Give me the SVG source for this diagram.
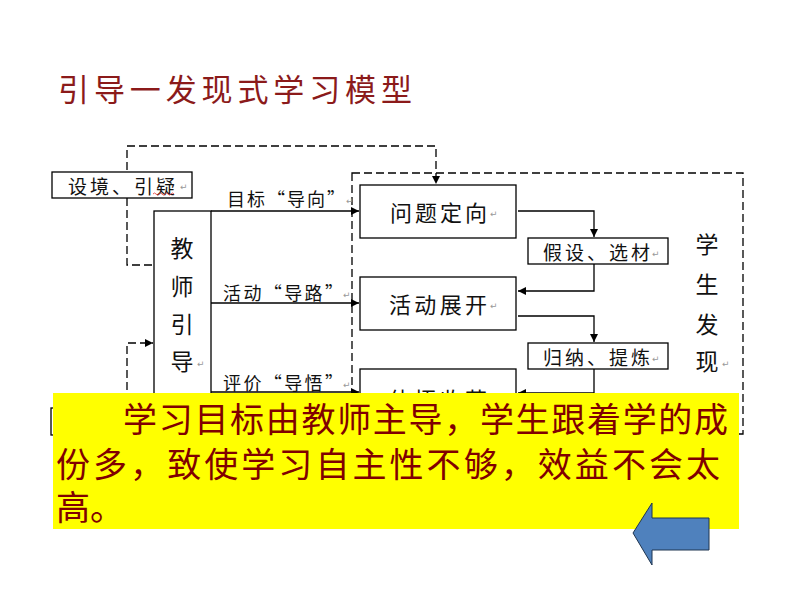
<svg xmlns="http://www.w3.org/2000/svg" width="800" height="600" viewBox="0 0 800 600">
<defs>
<marker id="ah" viewBox="0 0 10 10" refX="10" refY="5" markerWidth="9" markerHeight="8" markerUnits="userSpaceOnUse" orient="auto">
<path d="M0,0 L10,5 L0,10 z" fill="#000"/>
</marker>
<style>
.box{fill:#fff;stroke:#000;stroke-width:1.3}
.t{font-family:"Noto Sans CJK SC","Noto Sans",sans-serif;fill:#111;dominant-baseline:central}
.ret{font-family:"DejaVu Sans",sans-serif;font-size:9px;fill:#999;dominant-baseline:central}
.ln{fill:none;stroke:#000;stroke-width:1.3}
.dash{fill:none;stroke:#000;stroke-width:1.3;stroke-dasharray:8 4}
.y{font-family:"Noto Sans CJK SC","Noto Sans",sans-serif;font-size:34px;fill:#800000}
</style>
</defs>
<rect width="800" height="600" fill="#fff"/>
<text x="58" y="101" font-family="'Noto Sans CJK SC',sans-serif" font-size="31" fill="#8B1A1A" textLength="354" lengthAdjust="spacing">引导一发现式学习模型</text>

<g id="connectors">
<rect x="352" y="173" width="391" height="261" class="dash"/>
<path class="dash" d="M152,265 H127 V146 H436 V184" marker-end="url(#ah)"/>
<path class="dash" d="M127,450 V343 H153" marker-end="url(#ah)"/>
<path class="ln" d="M211,211 H359" marker-end="url(#ah)"/>
<path class="ln" d="M211,303 H359" marker-end="url(#ah)"/>
<path class="ln" d="M211,392 H359" marker-end="url(#ah)"/>
<path class="ln" d="M518,211 H594 V237" marker-end="url(#ah)"/>
<path class="ln" d="M594,264 V291 H518" marker-end="url(#ah)"/>
<path class="ln" d="M518,316 H594 V342" marker-end="url(#ah)"/>
<path class="ln" d="M594,369 V393 H518" marker-end="url(#ah)"/>
</g>

<g id="n-sheji">
<rect class="box" x="52" y="172" width="140" height="26"/>
<text class="t" x="68" y="185" font-size="19" textLength="107" lengthAdjust="spacing">设境、引疑</text>
<path d="M153,194 q1.5,-2 3,0 t3,0 t3,0 t3,0 t3,0 t3,0 t3,0" fill="none" stroke="#e03030" stroke-width="0.8"/>
<text class="ret" x="180" y="187">↵</text>
</g>
<g id="n-teacher">
<rect class="box" x="154" y="211" width="57" height="240"/>
<text class="t" x="182" y="247" font-size="23" text-anchor="middle">教</text>
<text class="t" x="182" y="285" font-size="23" text-anchor="middle">师</text>
<text class="t" x="182" y="323" font-size="23" text-anchor="middle">引</text>
<text class="t" x="182" y="360" font-size="23" text-anchor="middle">导</text>
<text class="ret" x="197" y="364">↵</text>
</g>
<g id="labels">
<text class="t" x="227" y="198" font-size="18" textLength="118" lengthAdjust="spacing">目标“导向”</text>
<text class="ret" x="346" y="201">↵</text>
<text class="t" x="223" y="292" font-size="18" textLength="120" lengthAdjust="spacing">活动“导路”</text>
<text class="ret" x="343" y="295">↵</text>
<text class="t" x="223" y="382" font-size="18" textLength="120" lengthAdjust="spacing">评价“导悟”</text>
<text class="ret" x="343" y="385">↵</text>
</g>
<g id="n-wenti">
<rect class="box" x="360" y="185" width="156" height="53"/>
<text class="t" x="390" y="211" font-size="22" textLength="97" lengthAdjust="spacing">问题定向</text>
<text class="ret" x="490" y="214">↵</text>
</g>
<g id="n-jiashe">
<rect class="box" x="528" y="238" width="140" height="26"/>
<text class="t" x="543" y="251" font-size="19" textLength="107" lengthAdjust="spacing">假设、选材</text>
<text class="ret" x="652" y="254">↵</text>
</g>
<g id="n-huodong">
<rect class="box" x="360" y="277" width="156" height="53"/>
<text class="t" x="389" y="303" font-size="22" textLength="98" lengthAdjust="spacing">活动展开</text>
<text class="ret" x="490" y="306">↵</text>
</g>
<g id="n-guina">
<rect class="box" x="528" y="343" width="140" height="26"/>
<text class="t" x="543" y="356" font-size="19" textLength="107" lengthAdjust="spacing">归纳、提炼</text>
<text class="ret" x="652" y="359">↵</text>
</g>
<g id="n-tiwu">
<rect class="box" x="360" y="369" width="156" height="53"/>
<text class="t" x="389" y="398" font-size="22" textLength="98" lengthAdjust="spacing">体悟收获</text>
</g>
<g id="n-left">
<rect class="box" x="51" y="408" width="140" height="27"/>
</g>
<g id="n-student">
<text class="t" x="707" y="243" font-size="23" text-anchor="middle">学</text>
<text class="t" x="707" y="283" font-size="23" text-anchor="middle">生</text>
<text class="t" x="707" y="323" font-size="23" text-anchor="middle">发</text>
<text class="t" x="707" y="360" font-size="23" text-anchor="middle">现</text>
<text class="ret" x="722" y="364">↵</text>
</g>

<g id="note">
<rect x="53" y="393" width="686" height="136" fill="#ffff00"/>
<text class="y" x="123" y="432" textLength="605" lengthAdjust="spacing">学习目标由教师主导，学生跟着学的成</text>
<text class="y" x="56" y="477" textLength="664" lengthAdjust="spacing">份多，致使学习自主性不够，效益不会太</text>
<text class="y" x="56" y="520">高。</text>
</g>
<g id="back-arrow">
<polygon points="633,533 652,503 652,518 709,518 709,550 652,550 652,565" fill="#4F81BD" stroke="#1f3550" stroke-width="1"/>
</g>
</svg>
